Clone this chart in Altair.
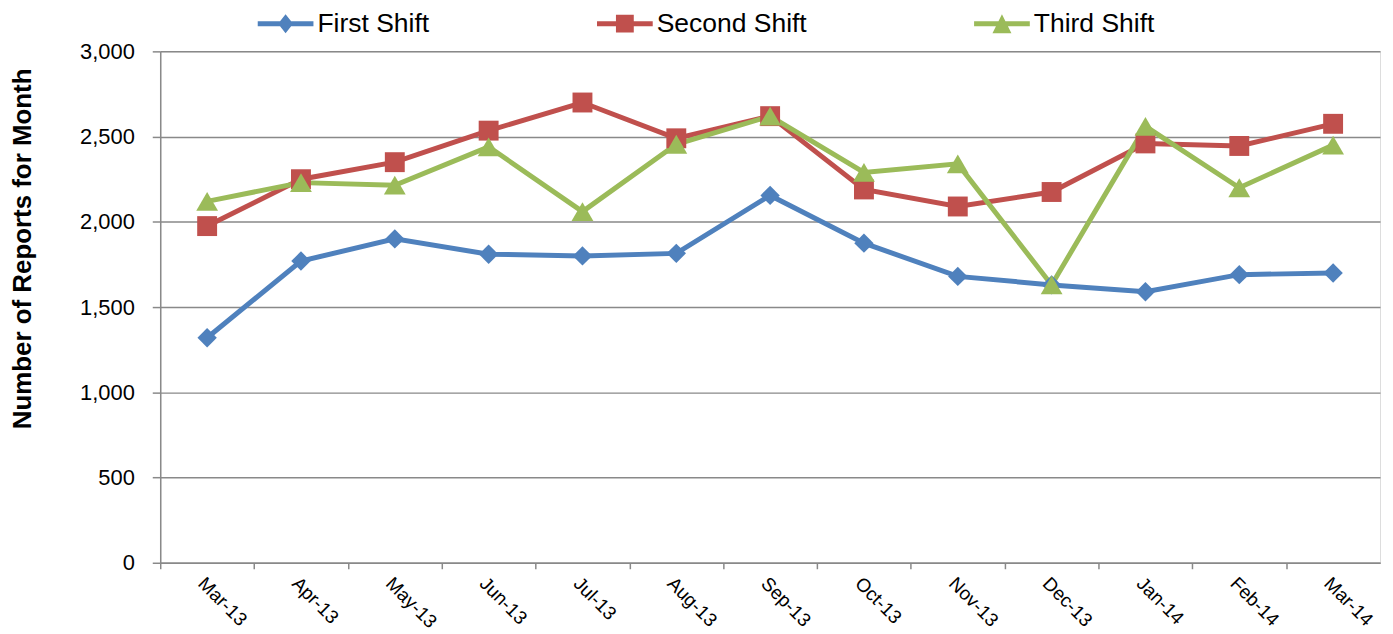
import altair as alt
import pandas as pd

months = ["Mar-13", "Apr-13", "May-13", "Jun-13", "Jul-13", "Aug-13", "Sep-13",
          "Oct-13", "Nov-13", "Dec-13", "Jan-14", "Feb-14", "Mar-14"]
series_names = ["First Shift", "Second Shift", "Third Shift"]
first_shift = [1320, 1770, 1900, 1810, 1800, 1815, 2155, 1875, 1680, 1630, 1590, 1690, 1700]
second_shift = [1975, 2250, 2350, 2535, 2700, 2490, 2620, 2190, 2090, 2175, 2460, 2445, 2575]
third_shift = [2120, 2230, 2215, 2440, 2060, 2455, 2620, 2290, 2340, 1630, 2560, 2200, 2450]
y_ticks = [0, 500, 1000, 1500, 2000, 2500, 3000]

colors = ["#4F81BD", "#C0504D", "#9BBB59"]
marker_shapes = ["diamond", "square", "triangle-up"]
marker_sizes = [380, 400, 480]
legend_paths = [
    "M-1,-0.09L1,-0.09L1,0.09L-1,0.09Z M0,-0.34L0.27,0L0,0.34L-0.27,0Z",
    "M-1,-0.09L1,-0.09L1,0.09L-1,0.09Z M-0.32,-0.32L0.32,-0.32L0.32,0.32L-0.32,0.32Z",
    "M-1,-0.09L1,-0.09L1,0.09L-1,0.09Z M0,-0.34L0.34,0.34L-0.34,0.34Z",
]

rows = []
for s, vals in zip(series_names, [first_shift, second_shift, third_shift]):
    for m, v in zip(months, vals):
        rows.append({"month": m, "series": s, "value": v})
df = pd.DataFrame(rows)

W, H = 1226, 514
step = W / len(months)
grey = "#898989"
font = "Liberation Sans"

x_enc = alt.X(
    "month:N",
    scale=alt.Scale(type="point", padding=0.5, domain=months),
    axis=alt.Axis(
        title=None, labelAngle=45, labelAlign="left", labelBaseline="top",
        labelFontSize=19, labelFont=font, labelColor="black",
        tickSize=6, tickOffset=-step / 2, labelOffset=step / 2, labelPadding=5,
        domainColor=grey, tickColor=grey, domainWidth=1.5, tickWidth=1.5,
        grid=False,
    ),
)
y_enc = alt.Y(
    "value:Q",
    scale=alt.Scale(domain=[0, 3000], nice=False),
    axis=alt.Axis(
        values=y_ticks, format=",.0f",
        title="Number of Reports for Month", titleFontSize=26, titleFont=font,
        titleFontWeight="bold", titleColor="black", titleX=-138, titleY=198,
        titleAngle=270, titleAlign="center", titleBaseline="middle",
        labelFontSize=22, labelFont=font, labelColor="black", labelPadding=18,
        tickSize=8, tickColor=grey, tickWidth=1.5,
        domainColor=grey, domainWidth=1.5,
        grid=True, gridColor=grey, gridWidth=1.5,
    ),
)
color_scale = alt.Scale(domain=series_names, range=colors)

lines = alt.Chart(df).mark_line(strokeWidth=5).encode(
    x=x_enc, y=y_enc,
    color=alt.Color("series:N", scale=color_scale, legend=None),
)

point_layers = []
for s, shp, sz in zip(series_names, marker_shapes, marker_sizes):
    point_layers.append(
        alt.Chart(df).transform_filter(alt.datum.series == s)
        .mark_point(shape=shp, filled=True, size=sz, opacity=1)
        .encode(x=x_enc, y=y_enc,
                color=alt.Color("series:N", scale=color_scale, legend=None))
    )

leg = alt.Legend(
    title=None, orient="none", legendX=98, legendY=-56, direction="horizontal",
    symbolSize=3136, symbolStrokeWidth=0, symbolOpacity=1,
    labelFontSize=26.6, labelFont=font, labelColor="black", labelOffset=4,
    columnPadding=168, padding=0, labelLimit=0,
)
legend_layer = alt.Chart(df).mark_point(filled=True, opacity=0, size=0).encode(
    x=x_enc, y=y_enc,
    color=alt.Color("series:N", scale=color_scale, legend=leg),
    shape=alt.Shape("series:N", scale=alt.Scale(domain=series_names, range=legend_paths), legend=leg),
)

chart = alt.layer(lines, *point_layers, legend_layer).resolve_legend(
    color="independent", shape="independent"
).properties(
    width=W, height=H,
    autosize=alt.AutoSizeParams(type="none"),
    padding={"left": 153, "top": 42, "right": 5, "bottom": 68},
).configure_view(stroke=None).configure(background="white")

chart.save("out.html", embed_options={"renderer": "svg", "actions": False})
